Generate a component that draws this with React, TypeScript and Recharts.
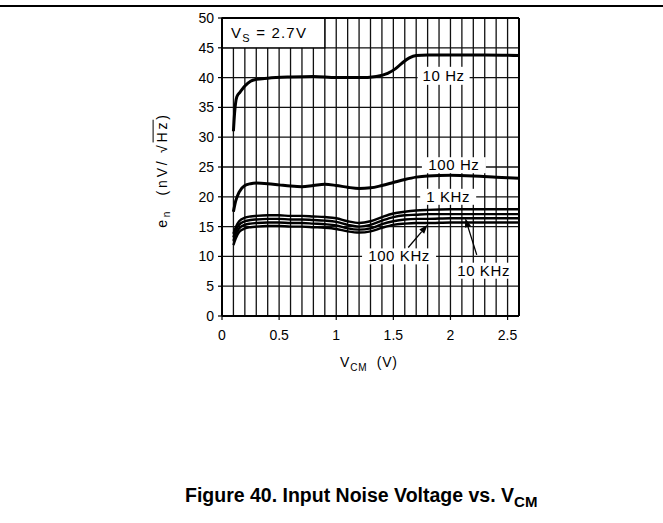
import React from 'react';
import { LineChart, Line, XAxis, YAxis, CartesianGrid, ReferenceArea, ReferenceDot, ReferenceLine } from 'recharts';

// V_CM sample points (V)
const vcm10Hz = [0.1, 0.11, 0.13, 0.16, 0.2, 0.25, 0.3, 0.4, 0.6, 0.8, 1.0, 1.2, 1.35, 1.45, 1.52, 1.58, 1.64, 1.7, 1.8, 2.0, 2.3, 2.6];
const vcm = [0.1, 0.12, 0.15, 0.2, 0.25, 0.3, 0.4, 0.5, 0.6, 0.7, 0.8, 0.9, 1.0, 1.1, 1.2, 1.3, 1.4, 1.5, 1.6, 1.7, 1.8, 2.0, 2.2, 2.4, 2.6];

// e_n (nV/rtHz)
const en10Hz = [31.0, 34.0, 36.8, 37.6, 38.6, 39.4, 39.7, 39.9, 40.1, 40.2, 40.0, 40.0, 40.2, 40.7, 41.5, 42.5, 43.3, 43.7, 43.8, 43.8, 43.8, 43.7];
const en100Hz = [17.5, 19.3, 20.8, 21.9, 22.2, 22.3, 22.2, 22.0, 21.8, 21.7, 21.9, 22.1, 21.9, 21.6, 21.4, 21.5, 21.9, 22.4, 22.9, 23.3, 23.5, 23.6, 23.5, 23.3, 23.1];
const en1kHz = [13.8, 14.9, 15.9, 16.5, 16.7, 16.8, 16.9, 16.9, 16.8, 16.8, 16.7, 16.6, 16.4, 15.9, 15.6, 15.9, 16.6, 17.2, 17.5, 17.7, 17.8, 17.9, 17.9, 17.9, 17.9];
const enMid = [13.2, 14.3, 15.3, 15.9, 16.1, 16.2, 16.3, 16.3, 16.2, 16.2, 16.1, 16.0, 15.8, 15.3, 15.0, 15.3, 16.0, 16.6, 16.9, 17.0, 17.1, 17.1, 17.1, 17.1, 17.1];
const en10kHz = [12.6, 13.7, 14.7, 15.3, 15.5, 15.6, 15.7, 15.7, 15.6, 15.6, 15.5, 15.4, 15.2, 14.7, 14.5, 14.7, 15.4, 15.9, 16.2, 16.3, 16.3, 16.4, 16.4, 16.4, 16.4];
const en100kHz = [11.9, 13.0, 14.1, 14.7, 14.9, 15.0, 15.1, 15.1, 15.0, 15.0, 14.9, 14.8, 14.6, 14.2, 14.0, 14.2, 14.8, 15.3, 15.5, 15.6, 15.6, 15.7, 15.7, 15.7, 15.7];

const xGridTicks = [0, 0.1, 0.2, 0.3, 0.4, 0.5, 0.6, 0.7, 0.8, 0.9, 1.0, 1.1, 1.2, 1.3, 1.4, 1.5, 1.6, 1.7, 1.8, 1.9, 2.0, 2.1, 2.2, 2.3, 2.4, 2.5, 2.6];
const xTickLabels = ['0', '0.5', '1', '1.5', '2', '2.5'];
const yTicks = [0, 5, 10, 15, 20, 25, 30, 35, 40, 45, 50];

const curveLabels = [
  { text: '10 Hz', x: 1.94, y: 40.3, w: 52, h: 18 },
  { text: '100 Hz', x: 2.03, y: 25.3, w: 64, h: 16 },
  { text: '1 KHz', x: 1.98, y: 20.0, w: 56, h: 16 },
  { text: '100 KHz', x: 1.55, y: 10.0, w: 74, h: 16 },
  { text: '10 KHz', x: 2.29, y: 7.6, w: 64, h: 16 },
];

const arrows = [
  { from: { x: 1.63, y: 11.5 }, to: { x: 1.8, y: 15.3 } },
  { from: { x: 2.23, y: 10.25 }, to: { x: 2.13, y: 16.4 } },
];

const toPoints = (xs: number[], ys: number[]) => xs.map((x, i) => ({ x, y: ys[i] }));

const FONT = '"Liberation Sans", Arial, sans-serif';

const XTick = (props: any) => {
  const { x, y, payload } = props;
  const label = String(payload.value);
  if (!xTickLabels.includes(label)) return null;
  return (
    <g>
      <line x1={x} y1={y} x2={x} y2={y + 4} stroke="#000" strokeWidth={1.2} />
      <text x={x} y={y + 24} textAnchor="middle" fontSize={14} fontFamily={FONT} fill="#000">
        {label}
      </text>
    </g>
  );
};

const LabelBox = (props: any) => {
  const { cx, cy, item } = props;
  return (
    <g>
      <rect x={cx - item.w / 2} y={cy - item.h / 2} width={item.w} height={item.h} fill="#fff" />
      <text x={cx} y={cy + 5} textAnchor="middle" fontSize={15} fontFamily={FONT} letterSpacing={0.6} fill="#000">
        {item.text}
      </text>
    </g>
  );
};

const Arrow = (props: any) => {
  const { x1, y1, x2, y2 } = props;
  const a = Math.atan2(y2 - y1, x2 - x1);
  const len = 9;
  const half = 3.2;
  const bx = x2 - len * Math.cos(a);
  const by = y2 - len * Math.sin(a);
  const px = -Math.sin(a) * half;
  const py = Math.cos(a) * half;
  return (
    <g>
      <line x1={x1} y1={y1} x2={bx} y2={by} stroke="#000" strokeWidth={1.3} />
      <polygon points={`${x2},${y2} ${bx + px},${by + py} ${bx - px},${by - py}`} fill="#000" />
    </g>
  );
};

const series = [
  { key: '10Hz', data: toPoints(vcm10Hz, en10Hz), w: 3 },
  { key: '100Hz', data: toPoints(vcm, en100Hz), w: 3 },
  { key: '1kHz', data: toPoints(vcm, en1kHz), w: 2.4 },
  { key: 'mid', data: toPoints(vcm, enMid), w: 2.4 },
  { key: '10kHz', data: toPoints(vcm, en10kHz), w: 2.4 },
  { key: '100kHz', data: toPoints(vcm, en100kHz), w: 2.4 },
];

export default function App() {
  return (
    <div style={{ position: 'absolute', left: 0, top: 0, width: 663, height: 523, background: '#fff', fontFamily: FONT }}>
      <div style={{ position: 'absolute', left: 0, top: 5, width: 663, height: 2, background: '#000' }} />
      <LineChart width={663} height={523} margin={{ top: 18, right: 144, left: 0, bottom: 177 }}>
        <CartesianGrid stroke="#111" strokeWidth={1.3} />
        <XAxis
          type="number"
          dataKey="x"
          domain={[0, 2.6]}
          ticks={xGridTicks}
          interval={0}
          height={30}
          tickSize={0}
          tickMargin={0}
          tickLine={false}
          tick={<XTick />}
          axisLine={{ stroke: '#000', strokeWidth: 2 }}
          allowDataOverflow
        />
        <YAxis
          type="number"
          domain={[0, 50]}
          ticks={yTicks}
          interval={0}
          width={222}
          tickSize={4}
          tickMargin={4}
          tick={{ fontSize: 14, fontFamily: FONT, fill: '#000' }}
          tickLine={{ stroke: '#000', strokeWidth: 1.2 }}
          axisLine={{ stroke: '#000', strokeWidth: 2 }}
        />
        <ReferenceLine y={50} stroke="#000" strokeWidth={2} />
        <ReferenceLine x={2.6} stroke="#000" strokeWidth={2} />
        <ReferenceArea
          x1={0}
          x2={0.9}
          y1={45}
          y2={50}
          fill="#fff"
          fillOpacity={1}
          stroke="#000"
          strokeWidth={1.3}
          label={(p: any) => {
            const vb = p.viewBox;
            return (
              <text x={vb.x + 9} y={vb.y + vb.height / 2 + 5} fontSize={15} fontFamily={FONT} fill="#000" letterSpacing={1.2}>
                V<tspan fontSize={11} dy={4}>S</tspan>
                <tspan dy={-4}>{'  =  2.7V'}</tspan>
              </text>
            );
          }}
        />
        {series.map((s) => (
          <Line
            key={s.key}
            data={s.data}
            dataKey="y"
            type="monotone"
            stroke="#000"
            strokeWidth={s.w}
            dot={false}
            isAnimationActive={false}
          />
        ))}
        {curveLabels.map((c) => (
          <ReferenceDot key={c.text} x={c.x} y={c.y} r={0} shape={(p: any) => <LabelBox {...p} item={c} />} />
        ))}
        {arrows.map((a, i) => (
          <ReferenceLine key={i} segment={[a.from, a.to]} shape={(p: any) => <Arrow {...p} />} />
        ))}
      </LineChart>
      <div
        style={{
          position: 'absolute',
          left: 163,
          top: 170,
          transform: 'translate(-50%, -50%) rotate(-90deg)',
          whiteSpace: 'nowrap',
          fontSize: 14,
          letterSpacing: 2.8,
        }}
      >
        e<sub style={{ fontSize: 10 }}>n</sub>&nbsp;&nbsp;(nV/&thinsp;√<span style={{ textDecoration: 'overline' }}>Hz</span>)
      </div>
      <div style={{ position: 'absolute', left: 340, top: 354, whiteSpace: 'nowrap', fontSize: 14, letterSpacing: 0.8 }}>
        V<sub style={{ fontSize: 10 }}>CM</sub>&nbsp;&nbsp;(V)
      </div>
      <div style={{ position: 'absolute', left: 185, top: 484, whiteSpace: 'nowrap', fontSize: 19.5, fontWeight: 'bold' }}>
        Figure 40. Input Noise Voltage vs. V<sub style={{ fontSize: 15 }}>CM</sub>
      </div>
    </div>
  );
}
